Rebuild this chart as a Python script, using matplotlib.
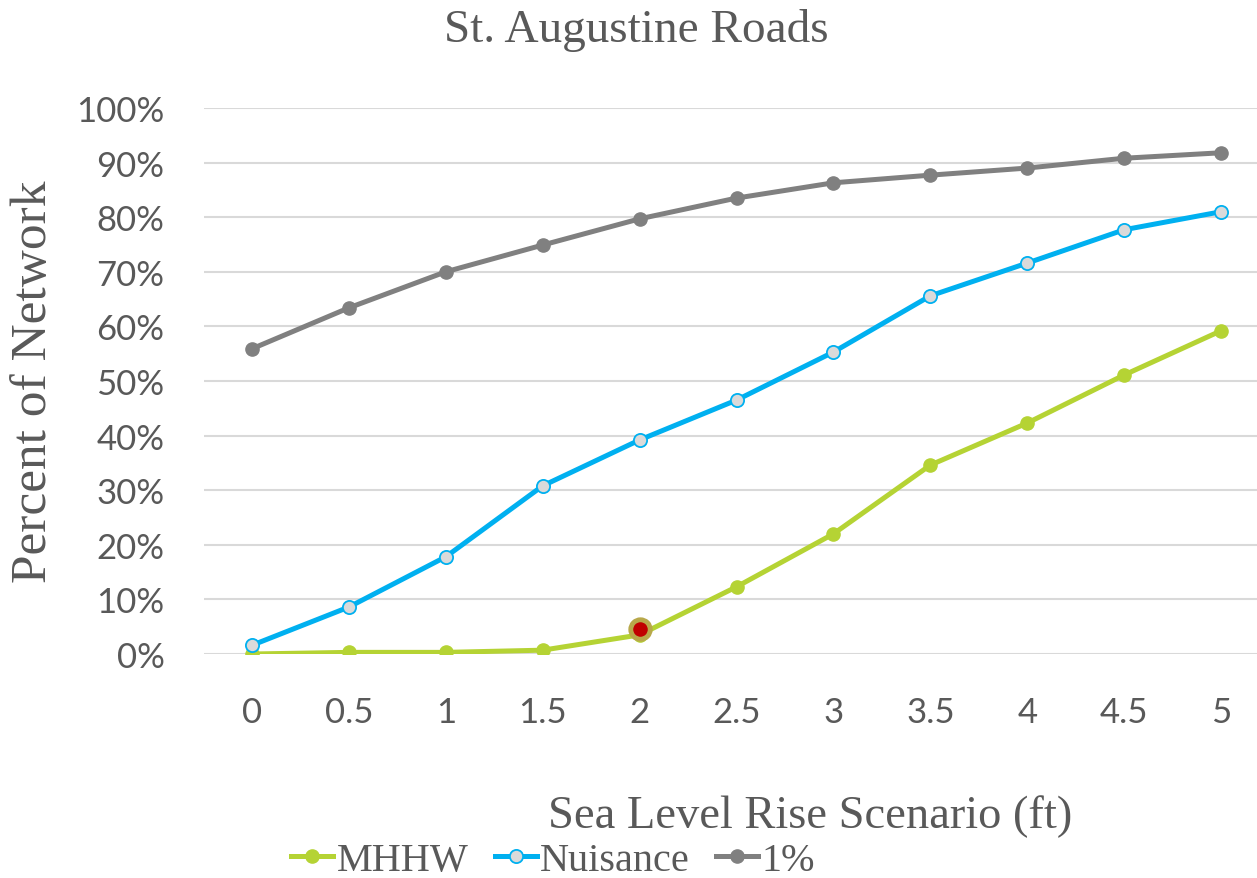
import matplotlib.pyplot as plt
from matplotlib.ticker import PercentFormatter

# Share of the road network inundated under each sea level rise scenario
scenarios = ["0", "0.5", "1", "1.5", "2", "2.5", "3", "3.5", "4", "4.5", "5"]
mhhw = [0.0, 0.3, 0.3, 0.7, 3.5, 12.3, 22.0, 34.6, 42.3, 51.1, 59.2]
nuisance = [1.6, 8.6, 17.8, 30.8, 39.2, 46.5, 55.3, 65.6, 71.6, 77.7, 81.0]
one_pct = [55.9, 63.4, 70.0, 74.9, 79.7, 83.5, 86.3, 87.7, 89.0, 90.8, 91.8]

# highlighted MHHW point
highlight_idx = 4
highlight_val = 4.5

TEXT = "#595959"
SERIF = ["Liberation Serif", "DejaVu Serif"]
SANS = ["Lato", "DejaVu Sans"]
plt.rcParams["font.family"] = SERIF

W, H = 1257, 879
fig = plt.figure(figsize=(W / 100, H / 100), dpi=100)
# axes run past the right edge, as the plot area is cut off there
left, right, top, bottom = 203.5, 1269.5, 109, 655
ax = fig.add_axes([left / W, 1 - bottom / H, (right - left) / W, (bottom - top) / H])

x = list(range(len(scenarios)))
ax.plot(x, mhhw, color="#B5D334", lw=3.6, marker="o", ms=9.5,
        mfc="#B5D334", mec="#B5D334", label="MHHW", zorder=3)
ax.plot(x, nuisance, color="#00B0F0", lw=3.6, marker="o", ms=9.5,
        mfc="#DADADA", mec="#00B0F0", mew=1.3, label="Nuisance", zorder=3)
ax.plot(x, one_pct, color="#808080", lw=3.6, marker="o", ms=9.5,
        mfc="#808080", mec="#808080", label="1%", zorder=3)
ax.plot([x[highlight_idx]], [highlight_val], marker="o", ms=14,
        mfc="#C00000", mec="#B8A84A", mew=3.5, ls="none", zorder=4)

ax.set_xlim(-0.5, len(scenarios) - 0.5)
ax.set_ylim(0, 100)
ax.set_yticks(range(0, 101, 10))
ax.yaxis.set_major_formatter(PercentFormatter(decimals=0))
ax.set_xticks(x)
ax.set_xticklabels(scenarios)
ax.grid(axis="y", color="#D9D9D9", lw=1.5)
ax.set_axisbelow(True)
for s in ax.spines.values():
    s.set_visible(False)
ax.tick_params(length=0, labelsize=25, labelcolor=TEXT)
ax.tick_params(axis="x", pad=30)
ax.tick_params(axis="y", pad=28)
for lab in ax.get_xticklabels() + ax.get_yticklabels():
    lab.set_family(SANS)

ax.set_ylabel("Percent of Network", fontsize=37, color=TEXT, va="center")
ax.yaxis.set_label_coords((34 - left) / (right - left), 0.5)

fig.text(636 / W, 1 - 30 / H, "St. Augustine Roads", ha="center", va="center",
         fontsize=34, color=TEXT)
fig.text(810 / W, 1 - 817 / H, "Sea Level Rise Scenario (ft)", ha="center",
         va="center", fontsize=33.5, color=TEXT)

leg = fig.legend(loc="center", bbox_to_anchor=(553 / W, 1 - 861 / H), ncol=3,
                 frameon=False, fontsize=29, handlelength=1.05, handletextpad=0.08,
                 columnspacing=0.65, borderpad=0)
for t in leg.get_texts():
    t.set_color(TEXT)

fig.savefig("out.png", dpi=100)
